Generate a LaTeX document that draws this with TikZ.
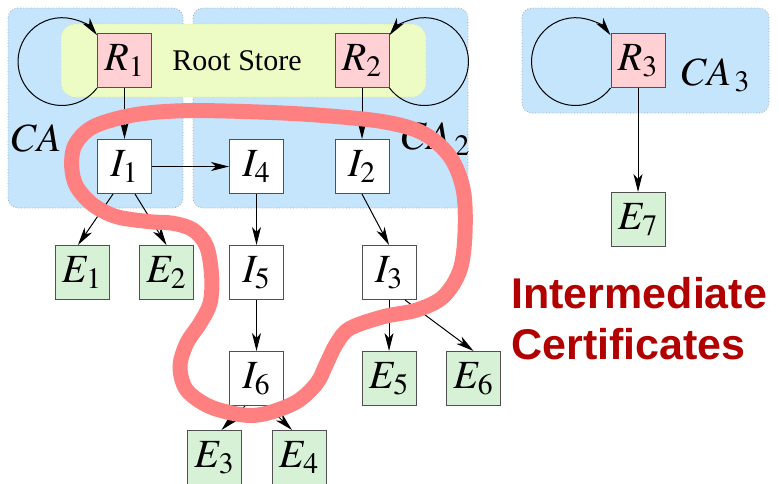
\documentclass[tikz,border=0pt]{standalone}
\usepackage{mathptmx}
\usepackage{fontspec}
\setmainfont{Liberation Serif}
\newfontfamily\labelsans{Liberation Sans}
\usetikzlibrary{arrows.meta,positioning}
\definecolor{cafill}{RGB}{196,229,252}
\definecolor{storefill}{RGB}{237,251,197}
\definecolor{rootpink}{RGB}{255,209,213}
\definecolor{leafgreen}{RGB}{215,241,214}
\definecolor{boxline}{RGB}{80,80,80}
\definecolor{interred}{RGB}{255,128,128}
\definecolor{labelred}{RGB}{178,0,0}

\begin{document}
\begin{tikzpicture}[x=0.5pt, y=-0.5pt, node distance=53pt,
  >={Stealth[length=9pt,width=4.5pt,inset=2.5pt]},
  certbox/.style={rectangle, draw=boxline, fill=white, minimum size=27pt, inner sep=0pt, line width=0.5pt, font=\fontsize{20}{24}\selectfont},
  rootbox/.style={certbox, fill=rootpink},
  leafbox/.style={certbox, fill=leafgreen},
  caregion/.style={fill=cafill, draw=gray!70, densely dotted, line width=0.4pt, rounded corners=5pt},
  storeregion/.style={fill=storefill, draw=storefill!85!black, densely dotted, line width=0.3pt, rounded corners=7pt},
  calabel/.style={anchor=base west, inner sep=0pt, font=\fontsize{20}{24}\selectfont},
  selfloop/.style={->, line width=0.5pt},
  chain/.style={->, line width=0.5pt},
  intercurve/.style={draw=interred, line width=7.5pt}]

  \useasboundingbox (0,0) rectangle (779,483);

  % CA areas and the root store
  \draw[caregion] (8,8) rectangle (183,208);
  \draw[caregion] (193,8) rectangle (468,208);
  \draw[caregion] (522,8) rectangle (769,113);
  \draw[storeregion] (61,24) rectangle (426,97);
  \node[inner sep=0pt, font=\fontsize{15}{18}\selectfont] (store) at (237,61) {Root Store};

  \node[calabel] (ca1) at (11,151) {$CA$};
  \node[calabel] (ca2) at (401,149) {$CA_{\,2}$};
  \node[calabel] (ca3) at (681,85) {$CA_{\,3}$};

  % certificates
  \node[rootbox] (R1) at (124.5,60.5) {$R_1$};
  \node[certbox, below of=R1] (I1) {$I_1$};
  \node[certbox, right of=I1, node distance=66pt] (I4) {$I_4$};
  \node[certbox, right of=I4, node distance=52.75pt] (I2) {$I_2$};
  \node[rootbox, above of=I2] (R2) {$R_2$};
  \node[leafbox, below of=I1, xshift=-21.25pt] (E1) {$E_1$};
  \node[leafbox, below of=I1, xshift=21pt] (E2) {$E_2$};
  \node[certbox, below of=I4] (I5) {$I_5$};
  \node[certbox, below of=I5] (I6) {$I_6$};
  \node[leafbox, below of=I6, node distance=39.5pt, xshift=-21pt] (E3) {$E_3$};
  \node[leafbox, below of=I6, node distance=39.5pt, xshift=21.25pt] (E4) {$E_4$};
  \node[certbox, below of=I2, xshift=13.5pt] (I3) {$I_3$};
  \node[leafbox, below of=I3] (E5) {$E_5$};
  \node[leafbox, right of=E5, node distance=42.25pt] (E6) {$E_6$};
  \node[rootbox] (R3) at (638,60.5) {$R_3$};
  \node[leafbox, below of=R3, node distance=79.5pt] (E7) {$E_7$};

  % self signed roots
  \draw[selfloop] (R1.south west) arc[start angle=-37, end angle=-323, radius=21.95pt];
  \draw[selfloop] (R2.south east) arc[start angle=-143, end angle=143, radius=21.95pt];
  \draw[selfloop] (R3.south west) arc[start angle=-37, end angle=-323, radius=21.95pt];

  % signing chains
  \draw[chain] (R1) -- (I1);
  \draw[chain] (R2) -- (I2);
  \draw[chain] (R3) -- (E7);
  \draw[chain] (I1) -- (I4);
  \draw[chain] ([xshift=-5.75pt]I1.south) -- ([xshift=-2pt]E1.north);
  \draw[chain] ([xshift=5.25pt]I1.south) -- (E2.north);
  \draw[chain] (I4) -- (I5);
  \draw[chain] (I5) -- (I6);
  \draw[chain] ([xshift=-5.75pt]I6.south) -- ([xshift=3.5pt]E3.north);
  \draw[chain] ([xshift=5.5pt]I6.south) -- ([xshift=-3.5pt]E4.north);
  \draw[chain] (I2.south) -- (I3.north);
  \draw[chain] (I3) -- (E5);
  \draw[chain] ([xshift=8pt]I3.south) -- (E6.north);

  % intermediate certificates
  \draw[intercurve] plot[smooth cycle, tension=0.55] coordinates {
    (250,111.7) (316.7,115) (383.3,121.7) (423.3,133.3) (450,156.7)
    (463.3,190) (465,233.3) (460,270) (443.3,296.7) (416.7,310)
    (383.3,316.7) (350,328.3) (336.7,343.3) (326.7,363.3) (316.7,383.3)
    (296.7,401.7) (266.7,413.3) (243.3,415) (210,406.7) (186.7,390)
    (180,366.7) (186.7,343.3) (200,323.3) (210,303.3) (211.7,276.7)
    (206.7,246.7) (193.3,230) (173.3,223.3) (150,221.7) (116.7,216.7)
    (93.3,205) (76.7,186.7) (71.7,166.7) (75,145) (93.3,126.7)
    (133.3,115) (183.3,110.7)};

  \node[anchor=west, align=left, inner sep=0pt, text=labelred,
    font=\labelsans\bfseries\fontsize{21.5}{25.5}\selectfont] (interlabel) at (511,319) {Intermediate\\Certificates};
\end{tikzpicture}
\end{document}
